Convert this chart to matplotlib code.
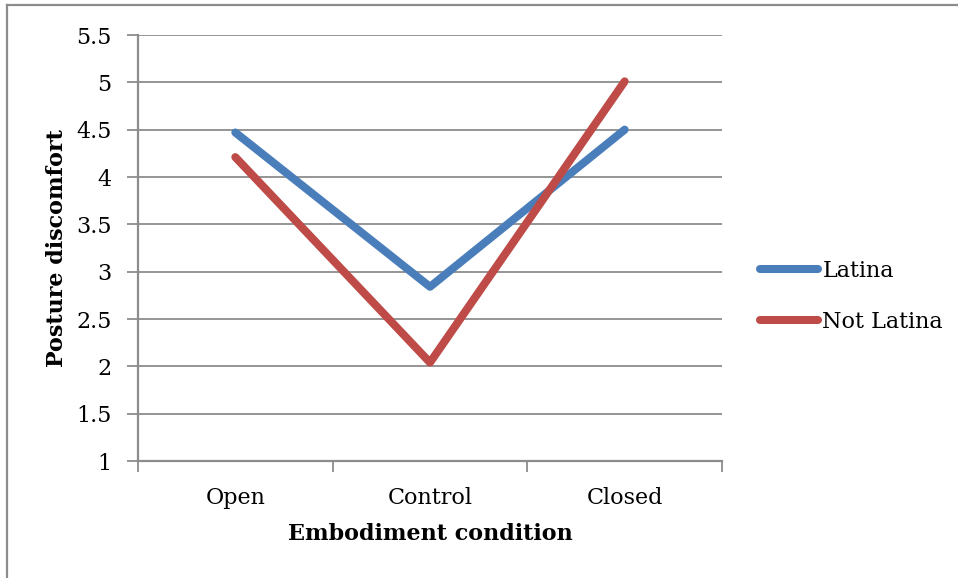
import matplotlib.pyplot as plt
from matplotlib.lines import Line2D

conditions = ["Open", "Control", "Closed"]
latina = [4.47, 2.84, 4.50]
not_latina = [4.21, 2.04, 5.01]

plt.rcParams['font.family'] = ['DejaVu Serif']

fig = plt.figure(figsize=(9.58, 5.78), dpi=100)
ax = fig.add_axes([138 / 958, 1 - 461 / 578, (722 - 138) / 958, (461 - 35) / 578])

grid_col = "#8c8c8c"
fs = 16
x = list(range(len(conditions)))
ax.plot(x, latina, color="#4a7ebb", lw=5.8, solid_capstyle="round", label="Latina")
ax.plot(x, not_latina, color="#be4b48", lw=5.8, solid_capstyle="round", label="Not Latina")

ax.set_xlim(-0.5, len(conditions) - 0.5)
ax.set_ylim(1, 5.5)
ax.set_yticks([1, 1.5, 2, 2.5, 3, 3.5, 4, 4.5, 5, 5.5])
ax.set_yticklabels(["1", "1.5", "2", "2.5", "3", "3.5", "4", "4.5", "5", "5.5"])
ax.grid(axis="y", color=grid_col, lw=1.3)
ax.set_axisbelow(True)

# category boundaries get the tick marks, labels sit in between
ax.set_xticks([i - 0.5 for i in range(len(conditions) + 1)])
ax.set_xticklabels([])
ax.set_xticks(x, minor=True)
ax.set_xticklabels(conditions, minor=True)
ax.tick_params(axis="x", which="major", length=8, width=1.3, color=grid_col, direction="out")
ax.tick_params(axis="x", which="minor", length=0, pad=19, labelsize=fs)
ax.tick_params(axis="y", length=8, width=1.3, color=grid_col, labelsize=fs, pad=11)

for s in ["top", "right"]:
    ax.spines[s].set_visible(False)
for s in ["left", "bottom"]:
    ax.spines[s].set_color(grid_col)
    ax.spines[s].set_linewidth(1.6)

ax.set_xlabel("Embodiment condition", fontsize=fs, fontweight="bold", labelpad=10)
ax.set_ylabel("Posture discomfort", fontsize=fs, fontweight="bold", labelpad=6)

ax.legend(loc="center left", bbox_to_anchor=(1.05, 0.386), frameon=False, fontsize=fs,
          handlelength=2.6, handletextpad=0.2, labelspacing=1.3, borderaxespad=0)

# chart border (left and top edges are visible)
fig.add_artist(Line2D([7 / 958, 7 / 958], [0, 1 - 5 / 578], color=grid_col, lw=1.6))
fig.add_artist(Line2D([7 / 958, 1], [1 - 5 / 578, 1 - 5 / 578], color=grid_col, lw=1.6))

fig.savefig("out.png", dpi=100)
